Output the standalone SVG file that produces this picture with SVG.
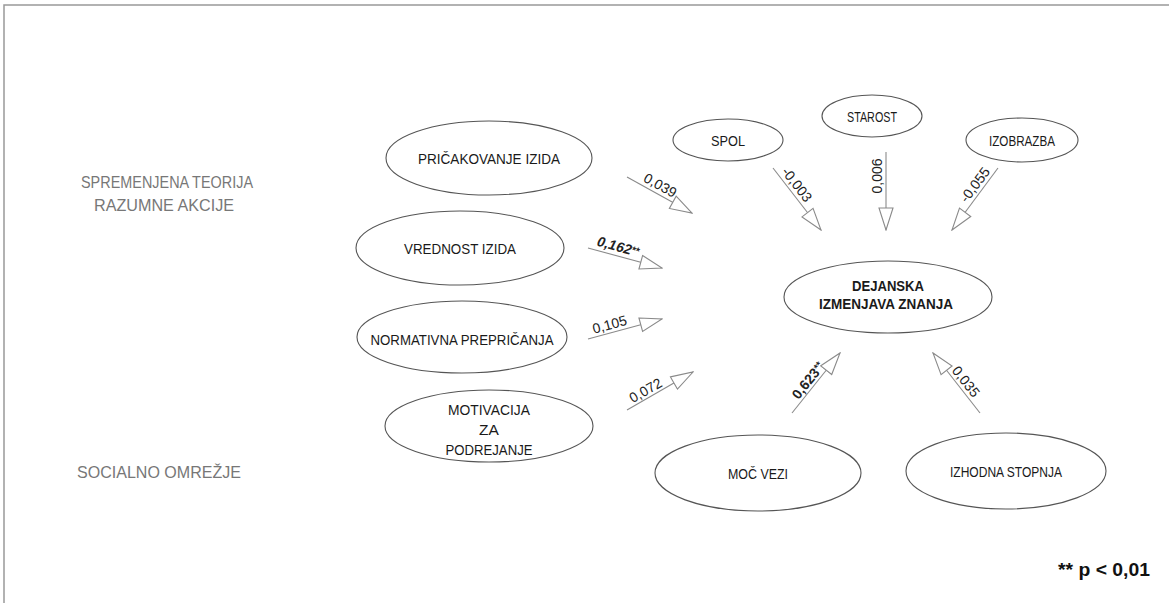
<svg xmlns="http://www.w3.org/2000/svg" width="1169" height="603" viewBox="0 0 1169 603">
<style>
.bg{fill:#fff}
.frame{fill:none;stroke:#999;stroke-width:1.5}
.node ellipse{fill:#fff;stroke:#555;stroke-width:1.1}
.nt{font-family:"Liberation Sans",Arial,sans-serif;font-size:15.5px;fill:#1a1a1a;text-anchor:middle}
.b{font-weight:bold}
.side{font-family:"Liberation Sans",Arial,sans-serif;font-size:17px;fill:#777;text-anchor:middle}
.conn line{stroke:#8a8a8a;stroke-width:1.1;marker-end:url(#head)}
.lbl{font-family:"Liberation Sans",Arial,sans-serif;font-size:14px;fill:#222;text-anchor:middle}
.sup{font-size:10px}
</style>
<defs>
<marker id="head" viewBox="0 0 24 16" refX="23" refY="8" markerWidth="24" markerHeight="16" markerUnits="userSpaceOnUse" orient="auto">
<path d="M1,1 L23,8 L1,15 Z" fill="#fff" stroke="#8a8a8a" stroke-width="1.1"/>
</marker>
</defs>
<rect class="bg" x="0" y="0" width="1169" height="603"/>
<path class="frame" d="M4,603 V5 H1169"/>

<g id="side-labels">
<text class="side" x="167" y="188" textLength="172" lengthAdjust="spacingAndGlyphs">SPREMENJENA TEORIJA</text>
<text class="side" x="164" y="211" textLength="140" lengthAdjust="spacingAndGlyphs">RAZUMNE AKCIJE</text>
<text class="side" x="159" y="478" textLength="164" lengthAdjust="spacingAndGlyphs">SOCIALNO OMREŽJE</text>
</g>

<g id="conn" class="conn">
<line x1="627" y1="177" x2="692" y2="213"/>
<line x1="588" y1="248" x2="662" y2="268"/>
<line x1="588" y1="339" x2="662" y2="319"/>
<line x1="627" y1="410" x2="693" y2="372"/>
<line x1="773" y1="168" x2="821" y2="230"/>
<line x1="886" y1="152" x2="886" y2="230"/>
<line x1="998" y1="168" x2="952" y2="230"/>
<line x1="792" y1="413" x2="840" y2="353"/>
<line x1="980" y1="413" x2="933" y2="353"/>
<text class="lbl" transform="translate(656,193) rotate(29)" y="-4">0,039</text>
<text class="lbl b" transform="translate(616,255) rotate(15)" y="-4" font-style="italic">0,162<tspan class="sup" dy="-2">**</tspan></text>
<text class="lbl" transform="translate(612,333) rotate(-15)" y="-4">0,105</text>
<text class="lbl" transform="translate(650,398) rotate(-30)" y="-4">0,072</text>
<text class="lbl" transform="translate(790,190) rotate(52)" y="-4">-0,003</text>
<text class="lbl" transform="translate(886,176) rotate(-90)" y="-4">0,006</text>
<text class="lbl" transform="translate(982,190) rotate(-53)" y="-4">-0,055</text>
<text class="lbl b" transform="translate(815,386) rotate(-51)" y="-4">0,623<tspan class="sup" dy="-3">**</tspan></text>
<text class="lbl" transform="translate(959,387) rotate(52)" y="-4">0,035</text>
</g>

<g id="n-pricakovanje" class="node">
<ellipse cx="489" cy="158" rx="103" ry="37"/>
<text class="nt" x="489" y="164" textLength="142" lengthAdjust="spacingAndGlyphs">PRIČAKOVANJE IZIDA</text>
</g>
<g id="n-vrednost" class="node">
<ellipse cx="460" cy="248" rx="104" ry="37"/>
<text class="nt" x="460" y="254" textLength="112" lengthAdjust="spacingAndGlyphs">VREDNOST IZIDA</text>
</g>
<g id="n-normativna" class="node">
<ellipse cx="462" cy="337" rx="105" ry="36"/>
<text class="nt" x="462" y="345" textLength="183" lengthAdjust="spacingAndGlyphs">NORMATIVNA PREPRIČANJA</text>
</g>
<g id="n-motivacija" class="node">
<ellipse cx="489" cy="426" rx="104" ry="36"/>
<text class="nt" x="489" y="415" textLength="82" lengthAdjust="spacingAndGlyphs">MOTIVACIJA</text>
<text class="nt" x="489" y="435">ZA</text>
<text class="nt" x="489" y="455" textLength="87" lengthAdjust="spacingAndGlyphs">PODREJANJE</text>
</g>
<g id="n-spol" class="node">
<ellipse cx="728" cy="140" rx="55" ry="21"/>
<text class="nt" x="728" y="146" textLength="34" lengthAdjust="spacingAndGlyphs">SPOL</text>
</g>
<g id="n-starost" class="node">
<ellipse cx="872" cy="116" rx="50" ry="21"/>
<text class="nt" x="872" y="122" textLength="50" lengthAdjust="spacingAndGlyphs">STAROST</text>
</g>
<g id="n-izobrazba" class="node">
<ellipse cx="1022" cy="140" rx="56" ry="22"/>
<text class="nt" x="1022" y="146" textLength="66" lengthAdjust="spacingAndGlyphs">IZOBRAZBA</text>
</g>
<g id="n-dejanska" class="node">
<ellipse cx="888" cy="297" rx="104" ry="36"/>
<text class="nt b" x="888" y="291" textLength="72" lengthAdjust="spacingAndGlyphs">DEJANSKA</text>
<text class="nt b" x="886" y="309" textLength="134" lengthAdjust="spacingAndGlyphs">IZMENJAVA ZNANJA</text>
</g>
<g id="n-moc" class="node">
<ellipse cx="758" cy="473" rx="103" ry="38"/>
<text class="nt" x="758" y="479" textLength="60" lengthAdjust="spacingAndGlyphs">MOČ VEZI</text>
</g>
<g id="n-izhodna" class="node">
<ellipse cx="1006" cy="471" rx="100" ry="38"/>
<text class="nt" x="1006" y="477" textLength="112" lengthAdjust="spacingAndGlyphs">IZHODNA STOPNJA</text>
</g>

<g id="legend">
<text x="1058" y="576" font-family="Liberation Sans, Arial, sans-serif" font-size="18" font-weight="bold" fill="#111" textLength="92" lengthAdjust="spacingAndGlyphs">** p &lt; 0,01</text>
</g>
</svg>
